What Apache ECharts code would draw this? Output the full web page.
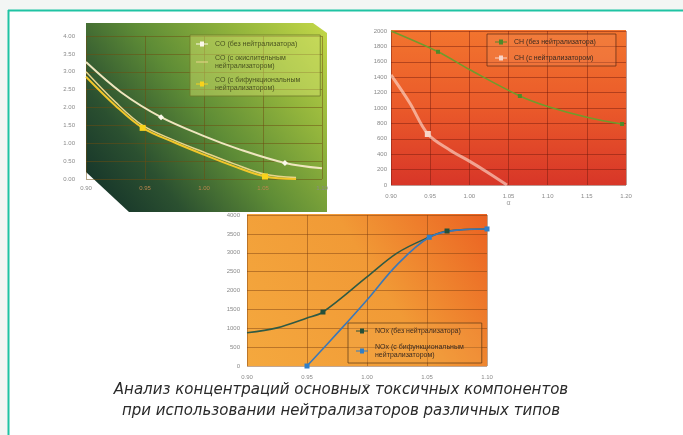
<!DOCTYPE html>
<html>
<head>
<meta charset="utf-8">
<script src="https://cdn.jsdelivr.net/npm/echarts@6/dist/echarts.min.js"></script>
<style>
  html, body { margin: 0; padding: 0; background: #ffffff; }
  #chart { width: 683px; height: 435px; }
</style>
</head>
<body>
<div id="chart"></div>
<script>
// ---- CO, % (top-left panel) ----
const coNames = ['CO (без нейтрализатора)', 'CO (с окислительным нейтрализатором)', 'CO (с бифункциональным нейтрализатором)'];
const coBaseX = [0.90, 0.93, 0.9636, 1.00, 1.03, 1.0686, 1.10];
const coBaseY = [3.27, 2.42, 1.73, 1.20, 0.83, 0.45, 0.30];
const coBaseMarked = [0.9636, 1.0686];
const coOxX = [0.90, 0.925, 0.948, 0.975, 1.00, 1.025, 1.0517, 1.078];
const coOxY = [3.00, 2.15, 1.50, 1.08, 0.75, 0.43, 0.13, 0.04];
const coOxMarked = [];
const coBiX = [0.90, 0.925, 0.948, 0.975, 1.00, 1.025, 1.0517, 1.078];
const coBiY = [2.86, 2.05, 1.43, 1.02, 0.68, 0.36, 0.07, 0.0];
const coBiMarked = [0.948, 1.0517];
const coTicksX = [0.90, 1.10, 0.05];
const coTicksY = [0, 4, 0.5];

// ---- CH, ppm (top-right panel) ----
const chNames = ['CH (без нейтрализатора)', 'CH (с нейтрализатором)'];
const chBaseX = [0.90, 0.96, 1.00, 1.0645, 1.10, 1.15, 1.195];
const chBaseY = [2000, 1730, 1500, 1156, 1020, 880, 792];
const chBaseMarked = [0.96, 1.0645, 1.195];
const chCatX = [0.90, 0.924, 0.947, 0.975, 1.00, 1.0225, 1.048];
const chCatY = [1430, 1065, 662, 455, 310, 169, 0];
const chCatMarked = [0.947];
const chTicksX = [0.90, 1.20, 0.05];
const chTicksY = [0, 2000, 200];

// ---- NOx, ppm (bottom panel) ----
const noxNames = ['NOx (без нейтрализатора)', 'NOx (с бифункциональным нейтрализатором)'];
const noxBaseX = [0.90, 0.925, 0.95, 0.9633, 1.00, 1.025, 1.05, 1.0667, 1.10];
const noxBaseY = [880, 1010, 1270, 1430, 2360, 2990, 3390, 3576, 3630];
const noxBaseMarked = [0.9633, 1.0667];
const noxBiX = [0.95, 0.9775, 1.00, 1.025, 1.0519, 1.075, 1.10];
const noxBiY = [0, 950, 1750, 2680, 3410, 3600, 3630];
const noxBiMarked = [0.95, 1.0519, 1.10];
const noxTicksX = [0.90, 1.10, 0.05];
const noxTicksY = [0, 4000, 500];

const captionLines = [
  'Анализ концентраций основных токсичных компонентов',
  'при использовании нейтрализаторов различных типов'
];

// ---------------------------------------------------------------
const chart = echarts.init(document.getElementById('chart'), null, { renderer: 'canvas' });

const pairs = (xs, ys) => xs.map((x, i) => [x, ys[i]]);
const grad = (x, y, x2, y2, stops) => ({
  type: 'linear', x, y, x2, y2,
  colorStops: stops.map(([offset, color]) => ({ offset, color }))
});

function curve(name, idx, xs, ys, marked, color, width, symbol, symbolSize, symbolColor) {
  return {
    type: 'line', name,
    xAxisIndex: idx, yAxisIndex: idx,
    data: pairs(xs, ys),
    smooth: 0.35,
    showSymbol: true,
    symbol: (v) => marked.some(m => Math.abs(m - v[0]) < 1e-6) ? symbol : 'none',
    symbolSize,
    itemStyle: { color: symbolColor || color },
    lineStyle: { color, width },
    emphasis: { disabled: true },
    z: 3
  };
}

function valueAxis(idx, ticks, digits, opts) {
  return Object.assign({
    gridIndex: idx, type: 'value',
    min: ticks[0], max: ticks[1], interval: ticks[2],
    axisLine: { show: false }, axisTick: { show: false },
    axisLabel: { fontSize: 6, color: '#8a8a8a', formatter: v => v.toFixed(digits) }
  }, opts);
}

const labelFont = 'Arial, "Liberation Sans", sans-serif';
const splitBrown = { show: true, lineStyle: { color: 'rgba(110,75,15,0.5)', width: 1 } };
const splitRed = { show: true, lineStyle: { color: 'rgba(110,25,10,0.45)', width: 1 } };
const splitOrange = { show: true, lineStyle: { color: 'rgba(120,60,15,0.45)', width: 1 } };

const wrapName = name => name.length > 26 ? name.replace(/ (нейтрализатором\))$/, '\n$1') : name;
const lineIcon = 'path://M0,4 L12,4 L12,5 L0,5 Z';
const markIcon = 'path://M0,4 L4,4 L4,2 L8,2 L8,4 L12,4 L12,5 L8,5 L8,7 L4,7 L4,5 L0,5 Z';

const option = {
  animation: false,
  textStyle: { fontFamily: labelFont },
  grid: [
    { left: 86, right: 361, top: 36, bottom: 256 },
    { left: 391, right: 57, top: 31, bottom: 250 },
    { left: 247, right: 196, top: 215, bottom: 69 }
  ],
  xAxis: [
    valueAxis(0, coTicksX, 2, {
      splitLine: splitBrown,
      axisLabel: {
        fontSize: 6, margin: 6, formatter: v => v.toFixed(2),
        color: (v) => (Number(v) < 0.92 || Number(v) > 1.08 ? '#8a8a8a' : '#b9864e')
      }
    }),
    valueAxis(1, chTicksX, 2, {
      splitLine: splitRed,
      axisLabel: { fontSize: 6, margin: 8, color: '#8a8a8a', formatter: v => v.toFixed(2) },
      name: 'α', nameLocation: 'middle', nameGap: 15,
      nameTextStyle: { fontSize: 7, color: '#9a9a9a' }
    }),
    valueAxis(2, noxTicksX, 2, {
      splitLine: splitOrange,
      axisLabel: { fontSize: 6, margin: 8, color: '#8a8a8a', formatter: v => v.toFixed(2) },
      name: 'α', nameLocation: 'middle', nameGap: 17,
      nameTextStyle: { fontSize: 7, color: '#9a9a9a' }
    })
  ],
  yAxis: [
    valueAxis(0, coTicksY, 2, {
      splitLine: splitBrown,
      axisLabel: { fontSize: 6, margin: 11, color: '#8a8a8a', formatter: v => v.toFixed(2) }
    }),
    valueAxis(1, chTicksY, 0, {
      splitLine: splitRed,
      axisLabel: { fontSize: 6, margin: 4, color: '#8a8a8a', formatter: v => String(v) }
    }),
    valueAxis(2, noxTicksY, 0, {
      splitLine: splitOrange,
      axisLabel: { fontSize: 6, margin: 7, color: '#8a8a8a', formatter: v => String(v) }
    })
  ],
  legend: [
    {
      left: 190, top: 35, orient: 'vertical',
      padding: [5, 20, 4, 6], itemGap: 6, itemWidth: 12, itemHeight: 7,
      backgroundColor: 'rgba(210,226,110,0.45)', borderColor: 'rgba(110,120,40,0.8)', borderWidth: 1,
      formatter: wrapName,
      textStyle: { fontSize: 7, color: '#4a5420', lineHeight: 8, padding: [0, 0, 0, 2] },
      data: [
        { name: coNames[0], icon: markIcon },
        { name: coNames[1], icon: lineIcon },
        { name: coNames[2], icon: markIcon }
      ]
    },
    {
      left: 487, top: 34, orient: 'vertical',
      padding: [4, 20, 4, 8], itemGap: 8, itemWidth: 12, itemHeight: 7,
      backgroundColor: 'rgba(245,150,100,0.25)', borderColor: 'rgba(90,40,20,0.7)', borderWidth: 1,
      formatter: wrapName,
      textStyle: { fontSize: 7, color: '#3a2a20', lineHeight: 8, padding: [0, 0, 0, 2] },
      data: [
        { name: chNames[0], icon: markIcon },
        { name: chNames[1], icon: markIcon }
      ]
    },
    {
      left: 348, top: 323, orient: 'vertical',
      padding: [4, 18, 4, 8], itemGap: 8, itemWidth: 12, itemHeight: 7,
      backgroundColor: 'rgba(245,170,80,0.25)', borderColor: 'rgba(90,55,20,0.7)', borderWidth: 1,
      formatter: wrapName,
      textStyle: { fontSize: 7, color: '#3a2a20', lineHeight: 8, padding: [0, 0, 0, 2] },
      data: [
        { name: noxNames[0], icon: markIcon },
        { name: noxNames[1], icon: markIcon }
      ]
    }
  ],
  series: [
    curve(coNames[0], 0, coBaseX, coBaseY, coBaseMarked, '#efe6bf', 2, 'diamond', 6, '#fbf8ea'),
    curve(coNames[1], 0, coOxX, coOxY, coOxMarked, '#e8d48a', 1.5, 'rect', 5),
    curve(coNames[2], 0, coBiX, coBiY, coBiMarked, '#f2c62a', 2, 'rect', 6, '#f8d21c'),
    curve(chNames[0], 1, chBaseX, chBaseY, chBaseMarked, '#6f9c2c', 1.6, 'rect', 4, '#4e8a2a'),
    curve(chNames[1], 1, chCatX, chCatY, chCatMarked, 'rgba(255,222,210,0.62)', 3, 'rect', 6, '#f8d4c8'),
    curve(noxNames[0], 2, noxBaseX, noxBaseY, noxBaseMarked, '#2f5a44', 1.6, 'rect', 5, '#24503a'),
    curve(noxNames[1], 2, noxBiX, noxBiY, noxBiMarked, '#3b78b8', 1.6, 'rect', 5, '#2f7fc8')
  ],
  graphic: [
    // page margin and teal frame
    { type: 'rect', z: -20, shape: { x: 0, y: 0, width: 683, height: 10 }, style: { fill: '#f3f6f4' } },
    { type: 'rect', z: -20, shape: { x: 0, y: 0, width: 8, height: 435 }, style: { fill: '#f3f6f4' } },
    { type: 'line', z: 20, shape: { x1: 8, y1: 10.5, x2: 683, y2: 10.5 }, style: { stroke: '#1fc3a3', lineWidth: 2 } },
    { type: 'line', z: 20, shape: { x1: 8.5, y1: 10, x2: 8.5, y2: 435 }, style: { stroke: '#1fc3a3', lineWidth: 2 } },
    // CO panel: bevelled green backdrop
    {
      type: 'polygon', z: -10,
      shape: { points: [[86, 23], [313, 23], [327, 33], [327, 212], [129, 212], [86, 172]] },
      style: { fill: grad(0, 1, 1, 0, [[0, '#0f2c28'], [0.25, '#2b5030'], [0.5, '#5e8c36'], [0.75, '#92b43c'], [1, '#c4d848']]) }
    },
    // CH panel backdrop
    {
      type: 'rect', z: -10,
      shape: { x: 391, y: 30, width: 235, height: 155 },
      style: { fill: grad(0, 0, 0, 1, [[0, '#f2742e'], [0.5, '#ea5a2a'], [1, '#d83628']]) }
    },
    // NOx panel backdrop
    {
      type: 'rect', z: -10,
      shape: { x: 247, y: 214, width: 240, height: 152 },
      style: { fill: grad(0, 1, 1, 0, [[0, '#f4a83e'], [0.55, '#f19a36'], [1, '#eb6222']]) }
    },
    // caption
    {
      type: 'text', z: 20, x: 341, y: 390,
      style: {
        text: captionLines[0], fill: '#2a2a2a', align: 'center', verticalAlign: 'middle',
        font: 'italic 15px "DejaVu Sans", sans-serif'
      }
    },
    {
      type: 'text', z: 20, x: 341, y: 411,
      style: {
        text: captionLines[1], fill: '#2a2a2a', align: 'center', verticalAlign: 'middle',
        font: 'italic 15px "DejaVu Sans", sans-serif'
      }
    }
  ]
};

chart.setOption(option);
</script>
</body>
</html>
